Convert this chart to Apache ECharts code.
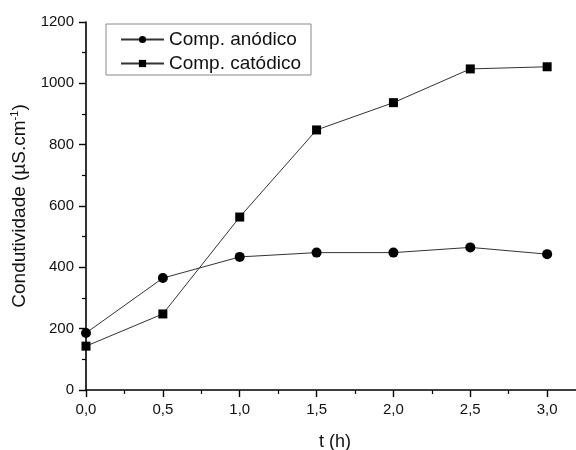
<!DOCTYPE html>
<html>
<head>
<meta charset="utf-8">
<script src="https://cdn.jsdelivr.net/npm/echarts@6/dist/echarts.min.js"></script>
<style>
  html, body { margin: 0; padding: 0; background: #fff; }
  #chart { width: 576px; height: 450px; }
</style>
</head>
<body>
<div id="chart"></div>
<script>
// Conductivity over time for the anodic and cathodic compartments
const times = [0, 0.5, 1.0, 1.5, 2.0, 2.5, 3.0];
const anodico = [186, 365, 434, 448, 448, 465, 443];
const catodico = [143, 248, 564, 848, 937, 1047, 1054];
const seriesNames = ['Comp. anódico', 'Comp. catódico'];

const FONT = '"Liberation Sans", Arial, sans-serif';

const pairs = (xs, ys) => xs.map((x, i) => [x, ys[i]]);

const chart = echarts.init(document.getElementById('chart'), null, { renderer: 'canvas' });

chart.setOption({
  animation: false,
  backgroundColor: '#ffffff',
  textStyle: { fontFamily: FONT },
  // the x range runs past the right edge of the canvas, so the axis is cut there
  grid: { left: 86, top: 22, height: 368, width: 538, containLabel: false, outerBoundsMode: 'none' },
  legend: {
    orient: 'vertical',
    left: 106,
    top: 24,
    padding: [6, 10, 2, 14],
    itemGap: 5,
    itemWidth: 43,
    itemHeight: 9,
    borderColor: '#8a8a8a',
    borderWidth: 1,
    textStyle: { fontFamily: FONT, fontSize: 19, color: '#111' },
    data: seriesNames
  },
  xAxis: {
    type: 'value',
    min: 0,
    max: 3.5,
    interval: 0.5,
    name: 't (h)',
    nameLocation: 'middle',
    nameGap: 43,
    nameTextStyle: { fontFamily: FONT, fontSize: 18, color: '#111', padding: [0, 40, 0, 0] },
    axisLine: { onZero: false, lineStyle: { color: '#000', width: 1.6 } },
    axisTick: { show: true, inside: false, length: 7, lineStyle: { color: '#000', width: 1.4 } },
    minorTick: { show: true, splitNumber: 2, length: 4, lineStyle: { color: '#000', width: 1.2 } },
    axisLabel: {
      fontFamily: FONT, fontSize: 15, color: '#111', margin: 12,
      formatter: v => v.toFixed(1).replace('.', ',')
    },
    splitLine: { show: false }
  },
  yAxis: {
    type: 'value',
    min: 0,
    max: 1200,
    interval: 200,
    name: '{a|Condutividade (µS.cm}{s|-1}{a|)}',
    nameLocation: 'middle',
    nameGap: 47,
    nameTextStyle: {
      rich: {
        a: { fontFamily: FONT, fontSize: 19, color: '#111' },
        s: { fontFamily: FONT, fontSize: 11, color: '#111', verticalAlign: 'top', padding: [0, 0, 10, 0] }
      }
    },
    axisLine: { show: true, onZero: false, lineStyle: { color: '#000', width: 1.6 } },
    axisTick: { show: true, inside: false, length: 7, lineStyle: { color: '#000', width: 1.4 } },
    minorTick: { show: true, splitNumber: 2, length: 4, lineStyle: { color: '#000', width: 1.2 } },
    axisLabel: {
      fontFamily: FONT, fontSize: 15, color: '#111', margin: 12,
      formatter: v => String(v)
    },
    splitLine: { show: false }
  },
  series: [
    {
      name: seriesNames[0],
      type: 'line',
      data: pairs(times, anodico),
      symbol: 'circle',
      symbolSize: 10,
      showAllSymbol: true,
      itemStyle: { color: '#000' },
      lineStyle: { color: '#333', width: 1 },
      z: 3
    },
    {
      name: seriesNames[1],
      type: 'line',
      data: pairs(times, catodico),
      symbol: 'rect',
      symbolSize: 9,
      showAllSymbol: true,
      itemStyle: { color: '#000' },
      lineStyle: { color: '#333', width: 1 },
      z: 3
    }
  ]
});
</script>
</body>
</html>
